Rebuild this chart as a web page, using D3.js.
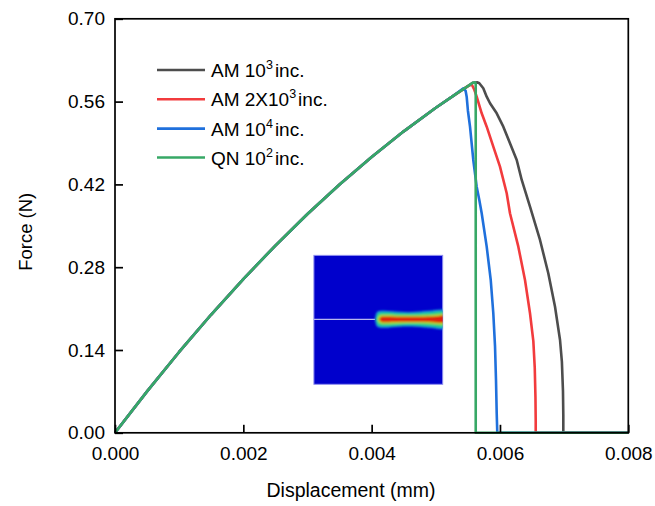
<!DOCTYPE html>
<html><head><meta charset="utf-8">
<script src="https://cdn.jsdelivr.net/npm/d3@7"></script>
<style>
body{margin:0;background:#fff;}
text{font-family:"Liberation Sans",Arial,sans-serif;fill:#000;}
</style></head>
<body><svg id="c" width="655" height="506"></svg>
<script>
// ---- data ----
const riseDisp  = [0, 0.0005, 0.001, 0.0015, 0.002, 0.0025, 0.003, 0.0035, 0.004, 0.0045, 0.005, 0.0053, 0.0055, 0.00558];
const riseForce = [0, 0.070, 0.1367, 0.200, 0.260, 0.3166, 0.3699, 0.4199, 0.4665, 0.5097, 0.5496, 0.5719, 0.5862, 0.592];

const am1e3Disp  = [0.00565, 0.005678, 0.00574, 0.005793, 0.005845, 0.005949, 0.006052, 0.006156, 0.006261, 0.006339, 0.006468, 0.006624, 0.006753, 0.006858, 0.006936, 0.006965, 0.006982, 0.006987, 0.006987, 0.008];
const am1e3Force = [0.5925, 0.591, 0.5825, 0.5683, 0.5572, 0.5402, 0.5176, 0.4895, 0.4613, 0.4275, 0.3823, 0.3260, 0.2697, 0.2132, 0.1569, 0.120, 0.070, 0.030, 0, 0];

const am2e3Disp  = [0.00556, 0.0056, 0.005637, 0.005715, 0.005793, 0.005896, 0.006, 0.006105, 0.006156, 0.006286, 0.00639, 0.006468, 0.00652, 0.006542, 0.006553, 0.006557, 0.006557, 0.008];
const am2e3Force = [0.589, 0.580, 0.5683, 0.5402, 0.5176, 0.4838, 0.45, 0.405, 0.3712, 0.3147, 0.2584, 0.2021, 0.155, 0.110, 0.060, 0.020, 0, 0];

const am1e4Disp  = [0.00543, 0.005465, 0.005481, 0.0055, 0.005533, 0.005584, 0.005637, 0.005678, 0.005715, 0.005793, 0.005856, 0.005896, 0.005923, 0.005938, 0.005949, 0.005958, 0.008];
const am1e4Force = [0.5825, 0.578, 0.5683, 0.545, 0.5176, 0.4613, 0.4161, 0.3936, 0.3712, 0.3147, 0.2584, 0.2021, 0.1456, 0.0893, 0.033, 0, 0];

const qnDisp  = [0.00561, 0.005622, 0.005622, 0.008];
const qnForce = [0.5925, 0.590, 0, 0];

const seriesNames  = ["AM 10|3| inc.", "AM 2X10|3| inc.", "AM 10|4| inc.", "QN 10|2| inc."];
const seriesColors = ["#4d4d4d", "#f23b3d", "#1f70dc", "#37a866"];

const xTicks = [0, 0.002, 0.004, 0.006, 0.008];
const yTicks = [0, 0.14, 0.28, 0.42, 0.56, 0.70];

// ---- build ----
function zipPts(d, f){ return d.map((v,i)=>[v,f[i]]); }
const rise = zipPts(riseDisp, riseForce);
const series = [
  rise.concat(zipPts(am1e3Disp, am1e3Force)),
  rise.filter(p=>p[0]<=0.0055).concat(zipPts(am2e3Disp, am2e3Force)),
  rise.filter(p=>p[0]<=0.0053).concat(zipPts(am1e4Disp, am1e4Force)),
  rise.concat(zipPts(qnDisp, qnForce))
];

const svg = d3.select("#c");
const L=115, R=628.3, T=18.8, B=432.8;
const x = d3.scaleLinear().domain([0,0.008]).range([L,R]);
const y = d3.scaleLinear().domain([0,0.70]).range([B,T]);

// inset (simulation picture)
const ins = {x0:0.0031, x1:0.005107, y0:0.082, y1:0.300};
const ix0=x(ins.x0), ix1=x(ins.x1), iy0=y(ins.y1), iy1=y(ins.y0);
const defs = svg.append("defs");
defs.append("clipPath").attr("id","insclip").append("rect")
  .attr("x",ix0).attr("y",iy0).attr("width",ix1-ix0).attr("height",iy1-iy0);
defs.append("filter").attr("id","soft").append("feGaussianBlur").attr("stdDeviation",0.9);
const gi = svg.append("g");
gi.append("rect").attr("x",ix0).attr("y",iy0).attr("width",ix1-ix0).attr("height",iy1-iy0)
  .attr("fill","#0000cc").attr("stroke","#8f8fef").attr("stroke-width",1);
const cy = iy0 + (iy1-iy0)*0.496;
const tipX = ix0 + (ix1-ix0)*0.475;
gi.append("line").attr("x1",ix0).attr("x2",tipX).attr("y1",cy).attr("y2",cy)
  .attr("stroke","#b8b8ee").attr("stroke-width",1.2);
const band = gi.append("g").attr("clip-path","url(#insclip)").append("g").attr("filter","url(#soft)");
const bw = ix1-tipX;
function bandPath(h, start){
  const pts=[[start,0],[start+2,h*0.85],[start+8,h],[start+bw*0.35,h*0.88],[start+bw*0.55,h*0.85],[start+bw*0.8,h*1.0],[ix1+4,h*1.0]];
  const top = pts.map(p=>[p[0], cy-p[1]]);
  const bot = pts.slice().reverse().map(p=>[p[0], cy+p[1]]);
  return d3.line().curve(d3.curveCatmullRom)(top.concat(bot))+"Z";
}
[[8.5,"#1aa9d6",0],[6.6,"#22d07a",1],[4.4,"#b8e020",2.5],[2.9,"#e02010",4]].forEach(([h,c,s])=>{
  band.append("path").attr("d",bandPath(h, tipX+s)).attr("fill",c);
});

// curves
const line = d3.line().x(d=>x(d[0])).y(d=>y(d[1]));
series.forEach((s,i)=>{
  svg.append("path").datum(s).attr("d",line).attr("fill","none")
    .attr("stroke",seriesColors[i]).attr("stroke-width",2.6).attr("stroke-linejoin","round");
});

// frame
svg.append("rect").attr("x",L).attr("y",T).attr("width",R-L).attr("height",B-T)
  .attr("fill","none").attr("stroke","#000").attr("stroke-width",1.7);

// axes
const xa = svg.append("g").attr("transform",`translate(0,${B})`)
  .call(d3.axisBottom(x).tickValues(xTicks).tickFormat(d3.format(".3f")).tickSizeInner(-8).tickSizeOuter(0).tickPadding(14));
const ya = svg.append("g").attr("transform",`translate(${L},0)`)
  .call(d3.axisLeft(y).tickValues(yTicks).tickFormat(d3.format(".2f")).tickSizeInner(-8).tickSizeOuter(0).tickPadding(10));
[xa,ya].forEach(a=>{
  a.select(".domain").remove();
  a.selectAll(".tick line").attr("stroke","#000").attr("stroke-width",1.7);
  a.selectAll(".tick text").attr("font-size",19).attr("fill","#000")
    .attr("font-family","Liberation Sans, Arial, sans-serif");
});

// axis titles
svg.append("text").attr("x",351).attr("y",497).attr("text-anchor","middle")
  .attr("font-size",19.5).text("Displacement (mm)");
svg.append("text").attr("transform",`translate(32,${(T+B)/2+6}) rotate(-90)`).attr("text-anchor","middle")
  .attr("font-size",18.5).text("Force (N)");

// legend
const lg = svg.append("g");
const rowY = [70, 99.3, 128.6, 157.5];
seriesNames.forEach((n,i)=>{
  const yy=rowY[i];
  lg.append("line").attr("x1",157).attr("x2",205).attr("y1",yy).attr("y2",yy)
    .attr("stroke",seriesColors[i]).attr("stroke-width",2.6);
  const parts=n.split("|");
  const t=lg.append("text").attr("x",211).attr("y",yy+7).attr("font-size",19);
  t.append("tspan").text(parts[0]);
  t.append("tspan").attr("font-size",12.5).attr("dy",-8).text(parts[1]);
  t.append("tspan").attr("dy",8).attr("dx",2).text(parts[2].trim());
});
</script></body></html>
